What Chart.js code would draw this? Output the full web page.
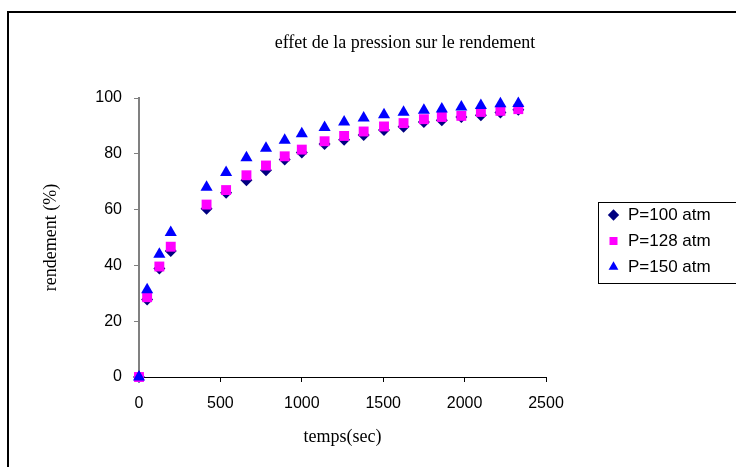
<!DOCTYPE html>
<html>
<head>
<meta charset="utf-8">
<title>effet de la pression sur le rendement</title>
<script src="https://cdn.jsdelivr.net/npm/chart.js@4.4.0/dist/chart.umd.min.js"></script>
<style>
  html, body { margin: 0; padding: 0; background: #fff; overflow: hidden; }
  #wrap { width: 736px; height: 467px; overflow: hidden; }
  canvas { display: block; }
</style>
</head>
<body>
<div id="wrap"><canvas id="chart" width="810" height="480"></canvas></div>
<script>
// temps (sec) and rendement (%)
var temps = [0, 50, 125, 195, 415, 535, 660, 780, 895, 1000, 1140, 1260, 1380, 1505, 1625, 1750, 1860, 1980, 2100, 2220, 2330];
var p100 = [0, 27.8, 38.9, 45.2, 60.3, 66, 70.5, 74.1, 78, 80.5, 83.5, 85, 86.7, 88.5, 89.7, 91.4, 92, 93.2, 93.8, 94.8, 95.8];
var p128 = [0, 28.6, 39.6, 46.7, 61.8, 67, 72.3, 75.8, 79.1, 81.5, 84.5, 86.4, 88, 89.8, 91, 92.4, 93.2, 93.6, 95, 95.4, 96];
var p150 = [0, 31.3, 44, 51.8, 68, 73.3, 78.6, 82, 84.9, 87.2, 89.4, 91.4, 92.8, 94, 94.9, 95.6, 96.1, 96.8, 97.3, 97.9, 98];
var seriesLabels = ["P=100 atm", "P=128 atm", "P=150 atm"];
var xTicks = [0, 500, 1000, 1500, 2000, 2500];
var yTicks = [0, 20, 40, 60, 80, 100];

var sans = "'Liberation Sans', Arial, sans-serif";
var serif = "'Liberation Serif', 'Times New Roman', serif";

function pts(ys) {
    return temps.map(function (t, i) { return {x: t, y: ys[i]}; });
}

// white page + outer frame of the chart
var framePlugin = {
    id: 'frame',
    beforeDraw: function (chart) {
        var ctx = chart.ctx;
        ctx.save();
        ctx.fillStyle = '#fff';
        ctx.fillRect(0, 0, chart.width, chart.height);
        ctx.strokeStyle = '#000';
        ctx.lineWidth = 2;
        ctx.strokeRect(8, 12, 900, 600);
        ctx.restore();
    }
};

// title centred on the whole frame, legend where the reference has it
var placePlugin = {
    id: 'place',
    afterLayout: function (chart) {
        var t = chart.titleBlock;
        t.left = 0;
        t.right = 810;
        t.width = 810;
        var lg = chart.legend;
        lg.left = 598.5;
        lg.right = 810;
        lg.top = 197.5;
        lg.bottom = 300;
    },
    afterDraw: function (chart) {
        var ctx = chart.ctx;
        ctx.save();
        ctx.strokeStyle = '#000';
        ctx.lineWidth = 1;
        ctx.strokeRect(598.5, 202.5, 300, 81);
        ctx.restore();
    }
};

var ctx = document.getElementById("chart");
var chart = new Chart(ctx, {
    type: 'scatter',
    data: {
        datasets: [{
            label: seriesLabels[0],
            data: pts(p100),
            pointStyle: 'rectRot',
            pointRadius: 6,
            backgroundColor: '#000080',
            borderColor: '#000080',
            borderWidth: 0,
            clip: false,
            order: 3
        },
            {
                label: seriesLabels[1],
                data: pts(p128),
                pointStyle: 'rect',
                pointRadius: 7,
                backgroundColor: '#ff00ff',
                borderColor: '#ff00ff',
                borderWidth: 0,
                clip: false,
                order: 2
            },
            {
                label: seriesLabels[2],
                data: pts(p150),
                pointStyle: 'triangle',
                pointRadius: 7,
                backgroundColor: '#0000ff',
                borderColor: '#0000ff',
                borderWidth: 0,
                clip: false,
                order: 1
            }
        ]
    },
    options: {
        responsive: false,
        animation: false,
        layout: {padding: {left: 0, right: 264, top: 0, bottom: 0}},
        plugins: {
            title: {
                display: true,
                text: 'effet de la pression sur le rendement',
                color: '#000',
                font: {family: serif, size: 18, weight: 'normal'},
                padding: {top: 32, bottom: 44.4}
            },
            legend: {
                position: 'chartArea',
                align: 'start',
                labels: {
                    usePointStyle: true,
                    boxWidth: 12,
                    boxHeight: 8,
                    padding: 9,
                    color: '#000',
                    font: {family: sans, size: 17},
                    sort: function (a, b) { return a.datasetIndex - b.datasetIndex; }
                }
            },
            tooltip: {enabled: false}
        },
        scales: {
            x: {
                type: 'linear',
                min: 0,
                max: 2500,
                afterBuildTicks: function (s) { s.ticks = xTicks.map(function (v) { return {value: v}; }); },
                ticks: {
                    color: '#000', font: {family: sans, size: 16}, padding: 12, maxRotation: 0,
                    callback: function (v) { return String(v); }
                },
                grid: {drawOnChartArea: false, tickLength: 5, tickColor: '#000', tickWidth: 1},
                border: {color: '#000', width: 1},
                title: {
                    display: true,
                    text: 'temps(sec)',
                    color: '#000',
                    font: {family: serif, size: 18},
                    padding: {top: 0, bottom: 32}
                },
                afterFit: function (s) { s.height = 103; }
            },
            y: {
                min: 0,
                max: 100,
                afterBuildTicks: function (s) { s.ticks = yTicks.map(function (v) { return {value: v}; }); },
                ticks: {
                    color: '#000', font: {family: sans, size: 16}, padding: 12,
                    callback: function (v) { return String(v); }
                },
                grid: {drawOnChartArea: false, tickLength: 5, tickColor: '#808080', tickWidth: 1},
                border: {color: '#808080', width: 2},
                title: {
                    display: true,
                    text: 'rendement (%)',
                    color: '#000',
                    font: {family: serif, size: 18},
                    padding: {top: 40, bottom: 0}
                },
                afterFit: function (s) { s.width = 139; }
            }
        }
    },
    plugins: [framePlugin, placePlugin]
});
</script>
</body>
</html>
